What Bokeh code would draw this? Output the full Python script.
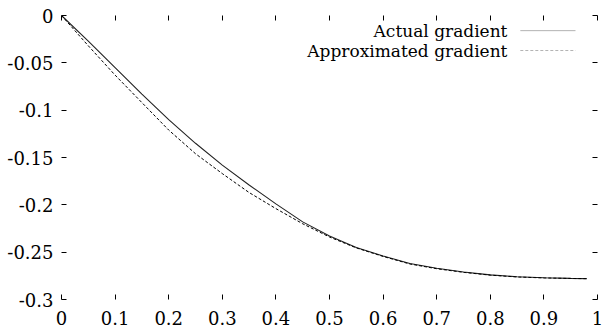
from bokeh.plotting import figure
from bokeh.models import (Range1d, FixedTicker, LinearAxis, Label, PolyAnnotation,
                          CustomLabelingPolicy)
from bokeh.embed import file_html
from bokeh.resources import INLINE

# ---- data ----
x_vals = [0, 0.05, 0.1, 0.15, 0.2, 0.25, 0.3, 0.35, 0.4, 0.45, 0.5, 0.55, 0.6,
          0.65, 0.7, 0.75, 0.8, 0.85, 0.9, 0.95, 0.98]
actual_gradient = [0, -0.027, -0.055, -0.083, -0.110, -0.135, -0.158, -0.179,
                   -0.199, -0.218, -0.233, -0.245, -0.254, -0.262, -0.267,
                   -0.271, -0.274, -0.276, -0.277, -0.2777, -0.278]
approx_gradient = [0, -0.032, -0.063, -0.092, -0.121, -0.146, -0.167, -0.187,
                   -0.204, -0.220, -0.234, -0.2455, -0.2545, -0.2625, -0.2675,
                   -0.2713, -0.2743, -0.2762, -0.2772, -0.2778, -0.278]
series_names = ["Actual gradient", "Approximated gradient"]

x_ticks = [0, 0.1, 0.2, 0.3, 0.4, 0.5, 0.6, 0.7, 0.8, 0.9, 1]
x_tick_labels = ["0", "0.1", "0.2", "0.3", "0.4", "0.5", "0.6", "0.7", "0.8", "0.9", "1"]
y_ticks = [0, -0.05, -0.1, -0.15, -0.2, -0.25, -0.3]
y_tick_labels = ["0", "-0.05", "-0.1", "-0.15", "-0.2", "-0.25", "-0.3"]

FONT = "DejaVu Serif"
FS_TICK = "18px"
FS_LEG = "17px"

p = figure(width=604, height=334, output_backend="svg", toolbar_location=None,
           x_range=Range1d(0, 1), y_range=Range1d(-0.3, 0),
           x_axis_location=None, y_axis_location=None,
           min_border_left=61, min_border_right=7, min_border_top=15,
           min_border_bottom=35)
p.outline_line_color = None
p.grid.visible = False
p.background_fill_color = "white"
p.border_fill_color = "white"

hide_all = CustomLabelingPolicy(code="""
const out = indices.clone ? indices.clone() : indices;
for (const i of Array.from(out)) { out.unset(i) }
return out
""")


def make_axis(ticks, labels, show_labels, standoff):
    ax = LinearAxis(ticker=FixedTicker(ticks=ticks))
    ax.axis_line_color = None
    ax.major_tick_in = 5
    ax.major_tick_out = 0
    ax.minor_tick_in = 0
    ax.minor_tick_out = 0
    ax.major_tick_line_color = "black"
    ax.major_tick_line_width = 1
    ax.major_label_overrides = {t: l for t, l in zip(ticks, labels)}
    ax.major_label_text_font = FONT
    ax.major_label_text_font_size = FS_TICK
    ax.major_label_text_color = "black"
    ax.major_label_standoff = standoff
    if not show_labels:
        ax.major_label_policy = hide_all
        ax.major_label_text_font_size = "0px"
        ax.major_label_standoff = 0
    return ax


p.add_layout(make_axis(x_ticks, x_tick_labels, True, 11), "below")
p.add_layout(make_axis(y_ticks, y_tick_labels, True, 8), "left")
p.add_layout(make_axis(x_ticks, x_tick_labels, False, 0), "above")
p.add_layout(make_axis(y_ticks, y_tick_labels, False, 0), "right")

p.line(x_vals, actual_gradient, line_color="#222222", line_width=1.1)
p.line(x_vals, approx_gradient, line_color="black", line_width=1, line_dash="3 2")

# legend in gnuplot style (text right-aligned, sample on the right)
legend_rows = [(series_names[0], "solid", 0.016),
               (series_names[1], "3 2", 0.037)]
for name, dash, dy in legend_rows:
    yy = -dy
    p.add_layout(Label(x=0.832, y=yy, text=name, text_align="right",
                       text_baseline="middle", text_font=FONT,
                       text_font_size=FS_LEG, text_color="black"))
    p.add_layout(PolyAnnotation(xs=[0.856, 0.959], ys=[yy, yy],
                                fill_alpha=0, line_color="black",
                                line_width=1, line_dash=dash))

open("out.html", "w").write(file_html(p, INLINE))
